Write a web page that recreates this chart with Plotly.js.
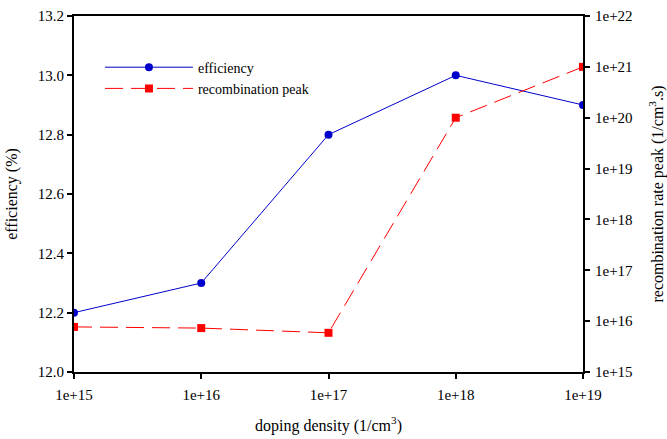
<!DOCTYPE html>
<html>
<head>
<meta charset="utf-8">
<script src="https://cdn.plot.ly/plotly-3.0.1.min.js"></script>
<style>html,body{margin:0;padding:0;background:#fff;}#chart{width:667px;height:439px;}</style>
</head>
<body>
<div id="chart"></div>
<script>
const doping = [1e15, 1e16, 1e17, 1e18, 1e19];
const xTickLabels = ["1e+15", "1e+16", "1e+17", "1e+18", "1e+19"];
const efficiency = [12.2, 12.3, 12.8, 13.0, 12.9];
const recombPeak = [7.7e15, 7.3e15, 5.9e15, 1.0e20, 1.0e21];
const y1TickVals = [12.0, 12.2, 12.4, 12.6, 12.8, 13.0, 13.2];
const y1TickLabels = ["12.0", "12.2", "12.4", "12.6", "12.8", "13.0", "13.2"];
const y2TickVals = [1e15, 1e16, 1e17, 1e18, 1e19, 1e20, 1e21, 1e22];
const y2TickLabels = ["1e+15", "1e+16", "1e+17", "1e+18", "1e+19", "1e+20", "1e+21", "1e+22"];

const fam = "Liberation Serif, Times New Roman, serif";
const tickFont = {family: fam, size: 15, color: "#000"};
const titleFont = {family: fam, size: 16, color: "#000"};

const traces = [
  {x: doping, y: efficiency, name: "efficiency", type: "scatter", mode: "lines+markers",
   line: {color: "#0000CC", width: 1}, marker: {symbol: "circle", size: 8, color: "#0000CC"}, yaxis: "y"},
  {x: doping, y: recombPeak, name: "recombination peak", type: "scatter", mode: "lines+markers",
   line: {color: "#FF0000", width: 1, dash: "18px,8px"}, marker: {symbol: "square", size: 8, color: "#FF0000"}, yaxis: "y2"}
];

const axisCommon = {showline: true, linecolor: "#000", linewidth: 2, ticks: "outside", ticklen: 5, tickwidth: 2,
                    tickcolor: "#000", showgrid: false, zeroline: false, tickfont: tickFont};

const layout = {
  width: 667, height: 439,
  margin: {l: 74, r: 84, t: 16, b: 67},
  paper_bgcolor: "#fff", plot_bgcolor: "#fff",
  font: {family: fam, size: 15, color: "#000"},
  showlegend: true,
  legend: {x: 0.051, y: 0.9, xanchor: "left", yanchor: "top", bgcolor: "rgba(0,0,0,0)",
           itemwidth: 88, font: {family: fam, size: 14, color: "#000"}, tracegroupgap: 0},
  xaxis: Object.assign({}, axisCommon, {type: "log", range: [15, 19], tickvals: doping, ticktext: xTickLabels, mirror: true,
          ticklabelstandoff: 3,
          title: {text: "doping density (1/cm<sup>3</sup>)", font: titleFont, standoff: 18}}),
  yaxis: Object.assign({}, axisCommon, {range: [12.0, 13.2], tickvals: y1TickVals, ticktext: y1TickLabels,
          title: {text: "efficiency (%)", font: titleFont, standoff: 16}}),
  yaxis2: Object.assign({}, axisCommon, {type: "log", range: [15, 22], overlaying: "y", side: "right", anchor: "x",
           tickvals: y2TickVals, ticktext: y2TickLabels, ticklabelstandoff: 2,
           title: {text: "recombination rate peak (1/cm<sup>3</sup>.s)", font: titleFont, standoff: 24}})
};

Plotly.newPlot("chart", traces, layout, {displayModeBar: false, staticPlot: true});
</script>
</body>
</html>
